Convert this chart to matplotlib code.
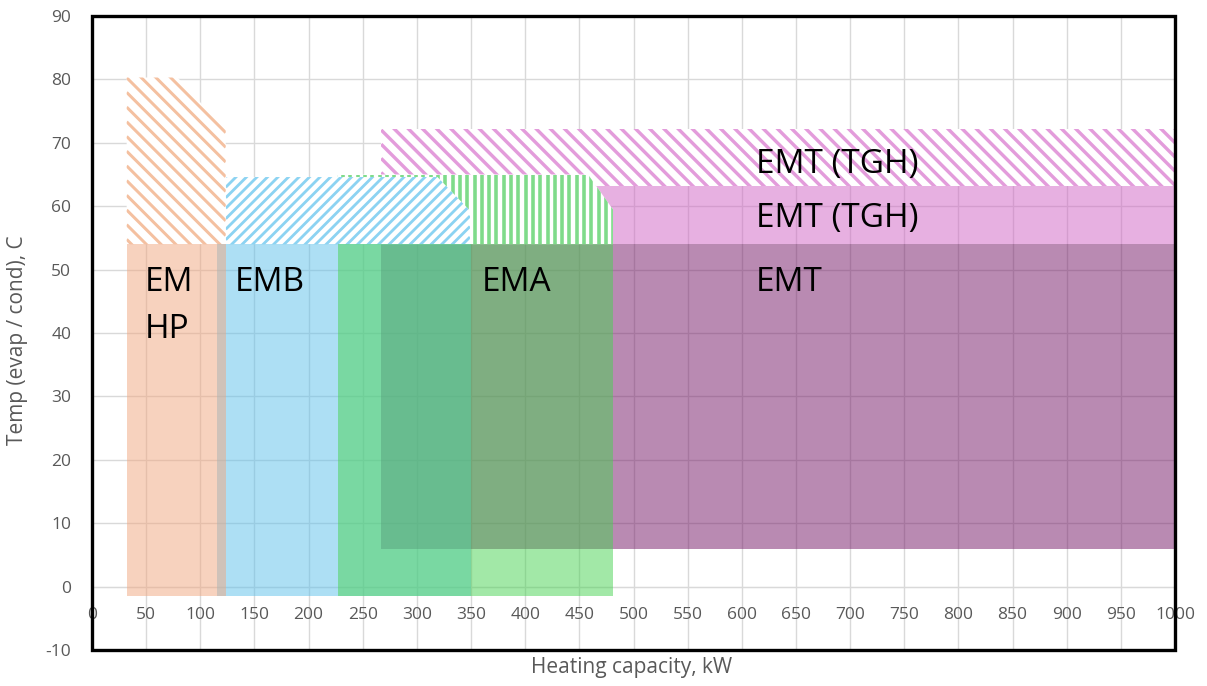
"""Compressor operating envelopes: temperature vs heating capacity"""
import numpy as np
import matplotlib.pyplot as plt
from matplotlib.collections import LineCollection
from matplotlib.patches import Polygon, Rectangle

plt.rcParams["font.family"] = ["Open Sans", "DejaVu Sans"]
plt.rcParams["axes.unicode_minus"] = False

# solid envelopes (kW range, temp range)
em_x, em_y = [32, 124], [-1.5, 54]
emb_x, emb_y = [115, 350], [-1.5, 54]
ema_x, ema_y = [227, 481], [-1.5, 54]
emt_x, emt_y = [267, 1000], [6, 54]
tgh_x, tgh_y = [267, 1000], [54, 63.2]

# extended (hatched) envelopes, polygon vertices
em_ext_x = [32, 32, 79, 123.5, 123.5]
em_ext_y = [54, 80.3, 80.3, 72, 54]
emb_ext_x = [123.5, 123.5, 319, 349, 349]
emb_ext_y = [54, 64.6, 64.6, 59.3, 54]
ema_ext_x = [227, 227, 458, 481, 481]
ema_ext_y = [54, 65, 65, 59.5, 54]
tgh_ext_x = [267, 267, 1000, 1000]
tgh_ext_y = [63.2, 72.2, 72.2, 63.2]

label_txt = ["EM", "HP", "EMB", "EMA", "EMT", "EMT (TGH)", "EMT (TGH)"]
label_x = [49, 49, 132, 360, 613, 613, 613]
label_y = [48.0, 40.6, 48.0, 48.0, 48.0, 58.0, 66.6]

fig = plt.figure(figsize=(12.07, 6.86), dpi=100)
ax = fig.add_axes([92/1207, 36/686, 1083/1207, 634/686])
ax.set_xlim(0, 1000); ax.set_ylim(-10, 90)
ax.set_autoscale_on(False)


def hatch(xs, ys, color, kind, step, lw, z):
    patch = Polygon(np.column_stack([xs, ys]), closed=True, facecolor="white",
                    edgecolor="none", zorder=z)
    ax.add_patch(patch)
    pts = ax.transData.transform(np.column_stack([xs, ys]))
    x0, y0 = pts.min(0); x1, y1 = pts.max(0)
    segs = []
    if kind == "|":
        for c in np.arange(np.floor(x0/step)*step, x1+step, step):
            segs.append([(c, y0), (c, y1)])
    else:
        sg = 1 if kind == "/" else -1
        cs = [yy - sg*xx for xx in (x0, x1) for yy in (y0, y1)]
        for c in np.arange(np.floor(min(cs)/step)*step, max(cs)+step, step):
            segs.append([(x0, sg*x0 + c), (x1, sg*x1 + c)])
    inv = ax.transData.inverted()
    segs = [inv.transform(np.array(s)) for s in segs]
    lc = LineCollection(segs, colors=color, linewidths=lw*0.72, zorder=z)
    lc.set_clip_path(patch)
    ax.add_collection(lc, autolim=False)


# solids (semi transparent), purple first
ax.fill_between(emt_x, emt_y[0], emt_y[1], color="#751767", alpha=0.5, lw=0, zorder=1)
ax.fill_between(tgh_x, tgh_y[0], tgh_y[1], color="#D163C5", alpha=0.5, lw=0, zorder=1.1)

# hatched extensions
hatch(tgh_ext_x, tgh_ext_y, "#E39CDB", "\\", 14.2, 3.4, 1.2)
hatch(ema_ext_x, ema_ext_y, "#7FDB8A", "|", 7.3, 3.6, 1.3)
hatch(emb_ext_x, emb_ext_y, "#8CD3F2", "/", 10.5, 2.8, 1.4)
hatch(em_ext_x, em_ext_y, "#F4C0A0", "\\", 14.7, 3.0, 1.5)

ax.fill_between(emb_x, emb_y[0], emb_y[1], color="#5DC1EB", alpha=0.5, lw=0, zorder=2)
ax.fill_between(ema_x, ema_y[0], ema_y[1], color="#47D351", alpha=0.5, lw=0, zorder=2.1)
ax.fill_between(em_x, em_y[0], em_y[1], color="#F1A77F", alpha=0.5, lw=0, zorder=2.2)

for t, x, y in zip(label_txt, label_x, label_y):
    ax.text(x, y, t, fontsize=24, ha="left", va="center", color="black", zorder=5)

ax.set_xticks(np.arange(0, 1001, 50))
ax.set_yticks(np.arange(-10, 91, 10))
ax.set_axisbelow(True)
ax.grid(True, color="#D9D9D9", lw=1.0)
for s in ["left", "top", "right"]:
    ax.spines[s].set_visible(False)
ax.spines["bottom"].set_position(("data", 0))
ax.spines["bottom"].set_color("#D9D9D9")
ax.spines["bottom"].set_zorder(0.6)
ax.tick_params(length=0, labelsize=12.5, colors="#595959")
ax.tick_params(axis="x", pad=15)
ax.tick_params(axis="y", pad=15)
ax.add_patch(Rectangle((0, 0), 1, 1, transform=ax.transAxes, fill=False,
                       edgecolor="black", lw=2.4, zorder=6, clip_on=False))

fig.text(18/1207, 1 - 340/686, "Temp (evap / cond), C", rotation=90, fontsize=15,
         color="#595959", ha="center", va="center")
fig.text(632/1207, 1 - 668/686, "Heating capacity, kW", fontsize=15,
         color="#595959", ha="center", va="center")

fig.savefig("out.png", dpi=100)
